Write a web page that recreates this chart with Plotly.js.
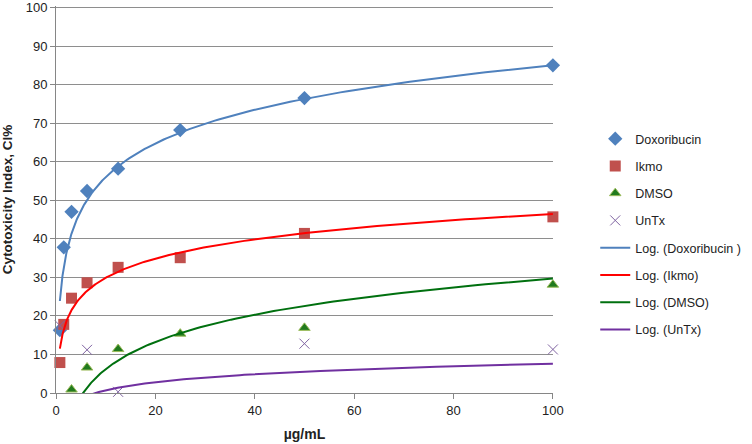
<!DOCTYPE html>
<html>
<head>
<meta charset="utf-8">
<script src="https://cdn.plot.ly/plotly-3.0.1.min.js"></script>
<style>html,body{margin:0;padding:0;background:#fff;}#chart{width:752px;height:444px;}</style>
</head>
<body>
<div id="chart"></div>
<script>
// concentrations (µg/mL)
const concentrations = [0.78, 1.56, 3.125, 6.25, 12.5, 25, 50, 100];
// cytotoxicity index values
const doxorubicin = [16.3, 37.8, 47.0, 52.4, 58.2, 68.2, 76.5, 85.0];
const ikmo        = [7.9, 17.8, 24.6, 28.6, 32.6, 35.1, 41.4, 45.7];
const dmso        = [null, null, 0.9, 6.6, 11.4, 15.4, 16.9, 28.1];
const untx        = [17.5, null, null, 11.2, 0.3, null, 12.8, 11.3];
// logarithmic trendline coefficients y = a*ln(x) + b
const seriesNames = ['Doxoribucin', 'Ikmo', 'DMSO', 'UnTx'];
const trendNames  = ['Log. (Doxoribucin )', 'Log. (Ikmo)', 'Log. (DMSO)', 'Log. (UnTx)'];
const trendA = [12.6, 7.2, 10.2, 3.0];
const trendB = [27.0, 13.3, -17.3, -6.2];
const xTicks = [0, 20, 40, 60, 80, 100];
const yTicks = [0, 10, 20, 30, 40, 50, 60, 70, 80, 90, 100];

const seriesValues = [doxorubicin, ikmo, dmso, untx];
const markerStyles = [
  {symbol: 'diamond', size: 11, color: '#4F81BD', line: {width: 0}},
  {symbol: 'square', size: 11, color: '#C0504D', line: {width: 0}},
  {symbol: 'triangle-up', size: 10, color: '#217A1E', line: {width: 1, color: '#9BBB59'}},
  {symbol: 'x-thin-open', size: 10, color: '#8064A2', line: {width: 1, color: '#8064A2'}}
];
const lineColors = ['#4F81BD', '#FF0000', '#00700F', '#7030A0'];

const traces = [];
seriesNames.forEach((n, i) => {
  traces.push({
    type: 'scatter', mode: 'markers', name: n, legendgroup: 'g' + i,
    x: concentrations, y: seriesValues[i], marker: markerStyles[i], cliponaxis: false
  });
});
// trend curves, sampled along the concentration range
const xMin = concentrations[0], xMax = concentrations[concentrations.length - 1];
const nS = 200;
const xs = [];
for (let k = 0; k <= nS; k++) xs.push(xMin * Math.pow(xMax / xMin, k / nS));
trendNames.forEach((n, i) => {
  traces.push({
    type: 'scatter', mode: 'lines', name: n, legendgroup: 't' + i,
    x: xs, y: xs.map(v => trendA[i] * Math.log(v) + trendB[i]),
    line: {color: lineColors[i], width: 2}, hoverinfo: 'skip'
  });
});

const fontFam = 'Liberation Sans, Arial, sans-serif';
const layout = {
  width: 752, height: 444,
  margin: {l: 56, r: 197, t: 6, b: 51},
  paper_bgcolor: '#fff', plot_bgcolor: '#fff',
  font: {family: fontFam, size: 13, color: '#333'},
  showlegend: true,
  legend: {x: 1.085, y: 0.695, xanchor: 'left', yanchor: 'top',
           font: {family: fontFam, size: 12.5, color: '#222'},
           tracegroupgap: 8, bgcolor: 'rgba(0,0,0,0)'},
  xaxis: {
    range: [0, 100.02], tickvals: xTicks, ticktext: xTicks.map(String),
    showgrid: false, zeroline: false, showline: true, linecolor: '#868686', linewidth: 1,
    ticks: 'outside', ticklen: 5, tickcolor: '#868686',
    tickfont: {family: fontFam, size: 13, color: '#222'},
    title: {text: '<b>µg/mL</b>', font: {family: fontFam, size: 14, color: '#222'}, standoff: 12}
  },
  yaxis: {
    range: [0, 100.4], tickvals: yTicks, ticktext: yTicks.map(String),
    showgrid: true, gridcolor: '#8E8E8E', gridwidth: 1, zeroline: false,
    showline: true, linecolor: '#868686', linewidth: 1,
    ticks: 'outside', ticklen: 5, tickcolor: '#868686', ticklabeloverflow: 'allow',
    tickfont: {family: fontFam, size: 13, color: '#222'},
    title: {text: '<b>Cytotoxicity Index, CI%</b>', font: {family: fontFam, size: 13.5, color: '#222'}, standoff: 10}
  }
};
Plotly.newPlot('chart', traces, layout, {displayModeBar: false, staticPlot: true});
</script>
</body>
</html>
